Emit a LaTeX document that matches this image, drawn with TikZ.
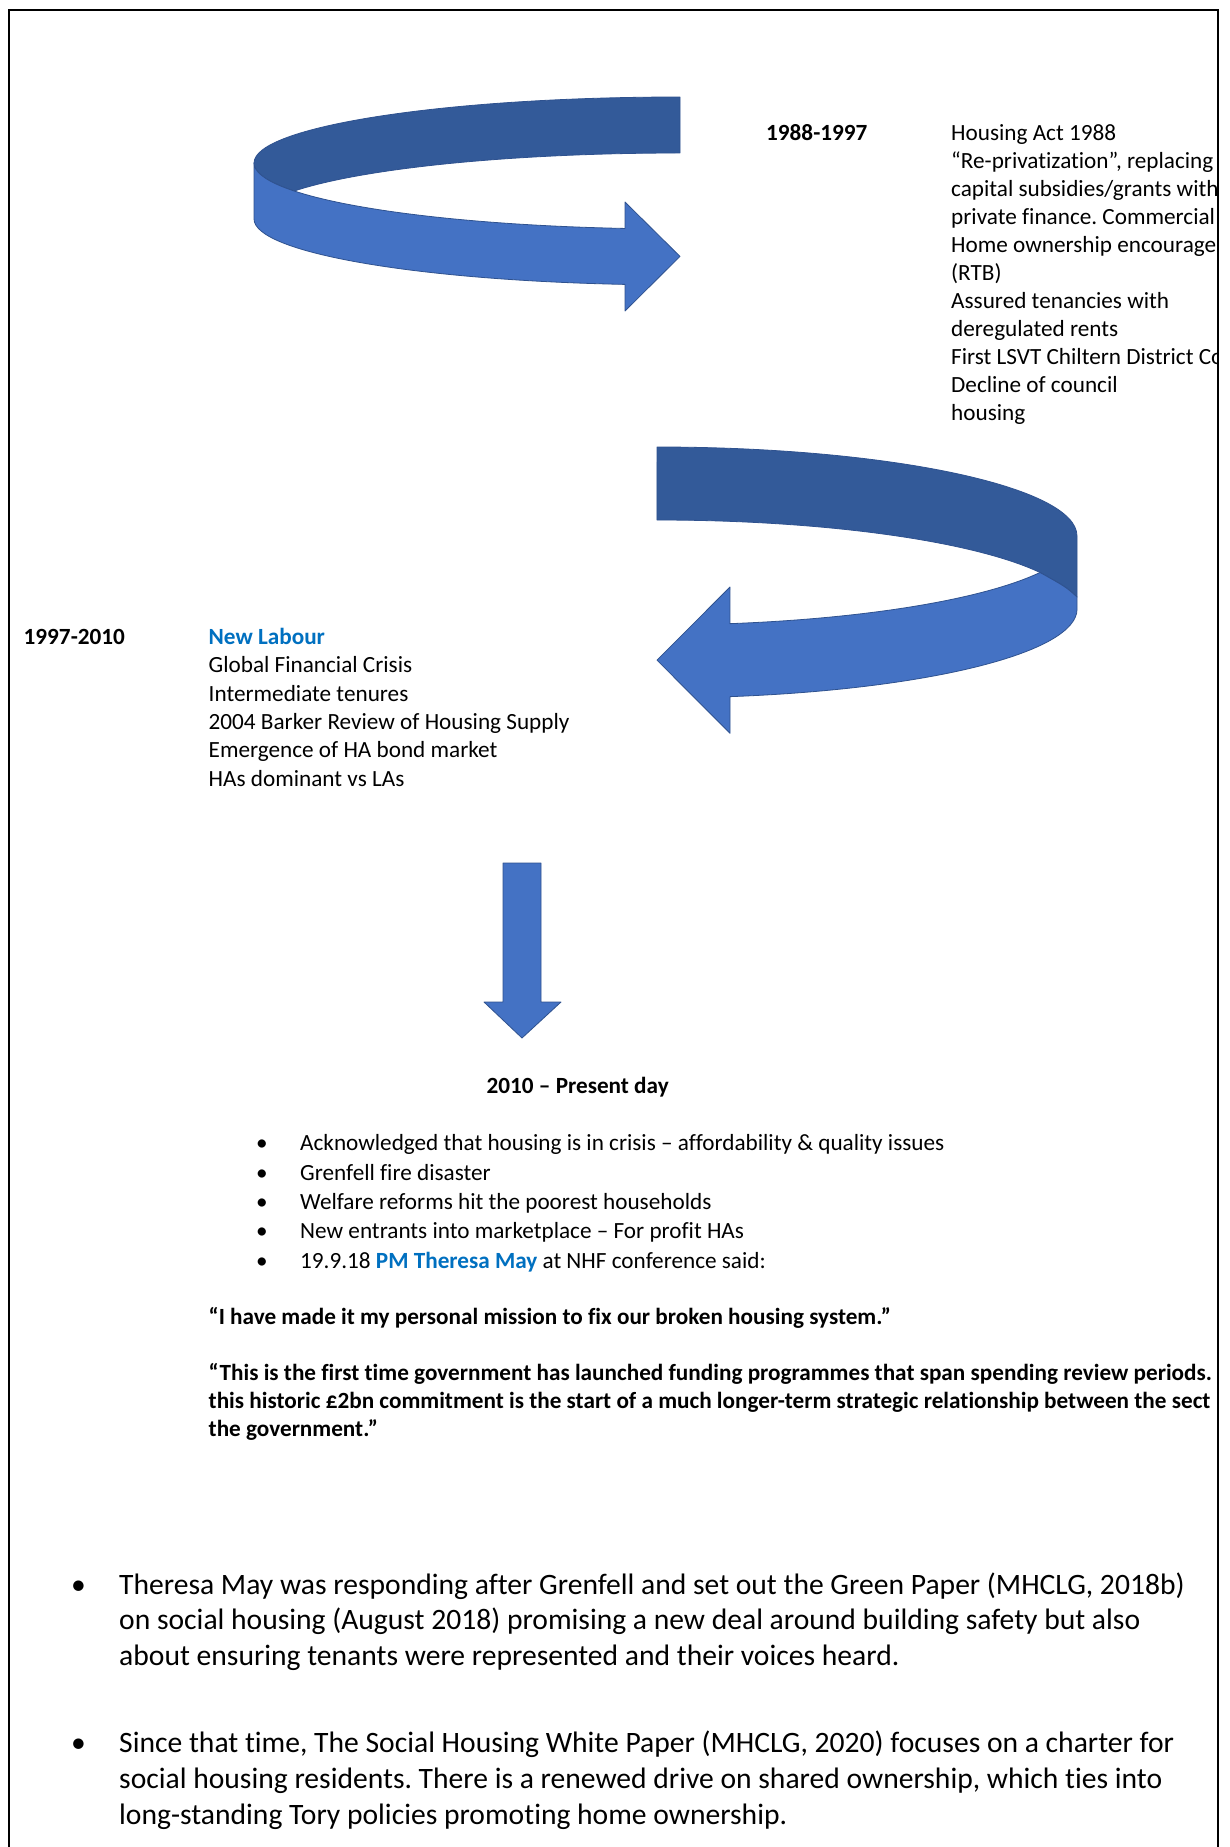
\documentclass[tikz,border=0pt]{standalone}
\usepackage{fontspec}
\setmainfont{Carlito}[Ligatures={NoCommon}]
\frenchspacing
\definecolor{ribbonfront}{HTML}{4472C4}
\definecolor{ribbonback}{HTML}{335A99}
\definecolor{ribbonedge}{HTML}{2F528F}
\definecolor{accent}{HTML}{0070C0}
\begin{document}
\begin{tikzpicture}[x=1pt,y=-1pt,
  body/.style={anchor=base west,inner sep=0pt,font=\fontsize{23.2}{28}\selectfont},
  bodybold/.style={anchor=base west,inner sep=0pt,font=\fontsize{23.2}{28}\selectfont\bfseries},
  big/.style={anchor=base west,inner sep=0pt,font=\fontsize{29.6}{36}\selectfont},
  front/.style={fill=ribbonfront,draw=ribbonedge,line width=0.8pt,line join=round},
  back/.style={fill=ribbonback,draw=ribbonedge,line width=0.8pt,line join=round}]
\useasboundingbox[fill=white] (0,0) rectangle (1230,1847);

% ---- ribbon arrow turning right (top) ----
\draw[back] (680,97) arc[start angle=270,end angle=154.9,x radius=426,y radius=66]
  arc[start angle=205.1,end angle=270,x radius=426,y radius=66] -- cycle;
\draw[front] (625,228.4) -- (625,202) -- (680,256.4) -- (625,311) -- (625,284.4)
  arc[start angle=97.42,end angle=180,x radius=426,y radius=66] -- (254,163)
  arc[start angle=180,end angle=97.42,x radius=426,y radius=66] -- cycle;

% ---- ribbon arrow turning left (middle) ----
\draw[back] (657,447) arc[start angle=270,end angle=360,x radius=420,y radius=89]
  -- (1077,597) .. controls (1066,587) .. (1040,572.5)
  arc[start angle=335.79,end angle=270,x radius=420,y radius=89] -- cycle;
\draw[front] (1040,572.5) arc[start angle=24.21,end angle=80,x radius=420,y radius=89]
  -- (730,587) -- (657,660.15) -- (730,733.3) -- (730,696.65)
  arc[start angle=80,end angle=0,x radius=420,y radius=89]
  -- (1077,597) .. controls (1066,587) .. cycle;

% ---- straight arrow down ----
\draw[front] (503,863) -- (541,863) -- (541,1002) -- (561,1002) -- (522,1038)
  -- (484,1002) -- (503,1002) -- cycle;

\begin{scope}
\clip (9,0) rectangle (1217,1847);
% 1988-1997
\node[bodybold] (y88) at (766,140.5) {1988-1997};
\node[body] (r1) at (951,140.5) {Housing Act 1988};
\node[body] (r2) at (951,168.5) {“Re-privatization”, replacing};
\node[body] (r3) at (951,196.5) {capital subsidies/grants with};
\node[body] (r4) at (951,224.5) {private finance. Commercial};
\node[body] (r5) at (951,252.5) {Home ownership encourage};
\node[body] (r6) at (951,280.5) {(RTB)};
\node[body] (r7) at (951,308.5) {Assured tenancies with};
\node[body] (r8) at (951,336.5) {deregulated rents};
\node[body] (r9) at (951,364.5) {First LSVT Chiltern District Co};
\node[body] (r10) at (951,392.5) {Decline of council};
\node[body] (r11) at (951,420.5) {housing};

% 1997-2010
\node[bodybold] (y97) at (23.5,644.5) {1997-2010};
\node[bodybold,text=accent] (l1) at (208.5,644.5) {New Labour};
\node[body] (l2) at (208.5,672.8) {Global Financial Crisis};
\node[body] (l3) at (208.5,701.1) {Intermediate tenures};
\node[body] (l4) at (208.5,729.4) {2004 Barker Review of Housing Supply};
\node[body] (l5) at (208.5,757.7) {Emergence of HA bond market};
\node[body] (l6) at (208.5,786.0) {HAs dominant vs LAs};

% 2010 - present
\node[bodybold] (y10) at (486.5,1093) {2010 – Present day};
\node[body] (d1) at (256,1150.5) {•};
\node[body] (b1) at (300,1150.5) {Acknowledged that housing is in crisis – affordability \& quality issues};
\node[body] (d2) at (256,1180) {•};
\node[body] (b2) at (300,1180) {Grenfell fire disaster};
\node[body] (d3) at (256,1209.4) {•};
\node[body] (b3) at (300,1209.4) {Welfare reforms hit the poorest households};
\node[body] (d4) at (256,1238.9) {•};
\node[body] (b4) at (300,1238.9) {New entrants into marketplace – For profit HAs};
\node[body] (d5) at (256,1268.3) {•};
\node[body] (b5) at (300,1268.3) {19.9.18 {\bfseries\color{accent}PM Theresa May} at NHF conference said:};

\node[bodybold] (q1) at (208.5,1324.2) {“I have made it my personal mission to fix our broken housing system.”};
\node[bodybold] (q2) at (208.5,1380.7) {“This is the first time government has launched funding programmes that span spending review periods.};
\node[bodybold] (q3) at (208.5,1408.7) {this historic £2bn commitment is the start of a much longer-term strategic relationship between the sect};
\node[bodybold] (q4) at (208.5,1436.7) {the government.”};

% closing remarks
\node[big] (e1) at (71,1594) {•};
\node[big] (p1) at (119,1594) {Theresa May was responding after Grenfell and set out the Green Paper (MHCLG, 2018b)};
\node[big] (p2) at (119,1629.8) {on social housing (August 2018) promising a new deal around building safety but also};
\node[big] (p3) at (119,1665.6) {about ensuring tenants were represented and their voices heard.};
\node[big] (e2) at (71,1752.5) {•};
\node[big] (p4) at (119,1752.5) {Since that time, The Social Housing White Paper (MHCLG, 2020) focuses on a charter for};
\node[big] (p5) at (119,1788.3) {social housing residents. There is a renewed drive on shared ownership, which ties into};
\node[big] (p6) at (119,1824.1) {long-standing Tory policies promoting home ownership.};
\end{scope}

% page frame, open at the bottom
\draw[line width=2pt] (9,1847) -- (9,10) -- (1218,10) -- (1218,1847);
\end{tikzpicture}
\end{document}
